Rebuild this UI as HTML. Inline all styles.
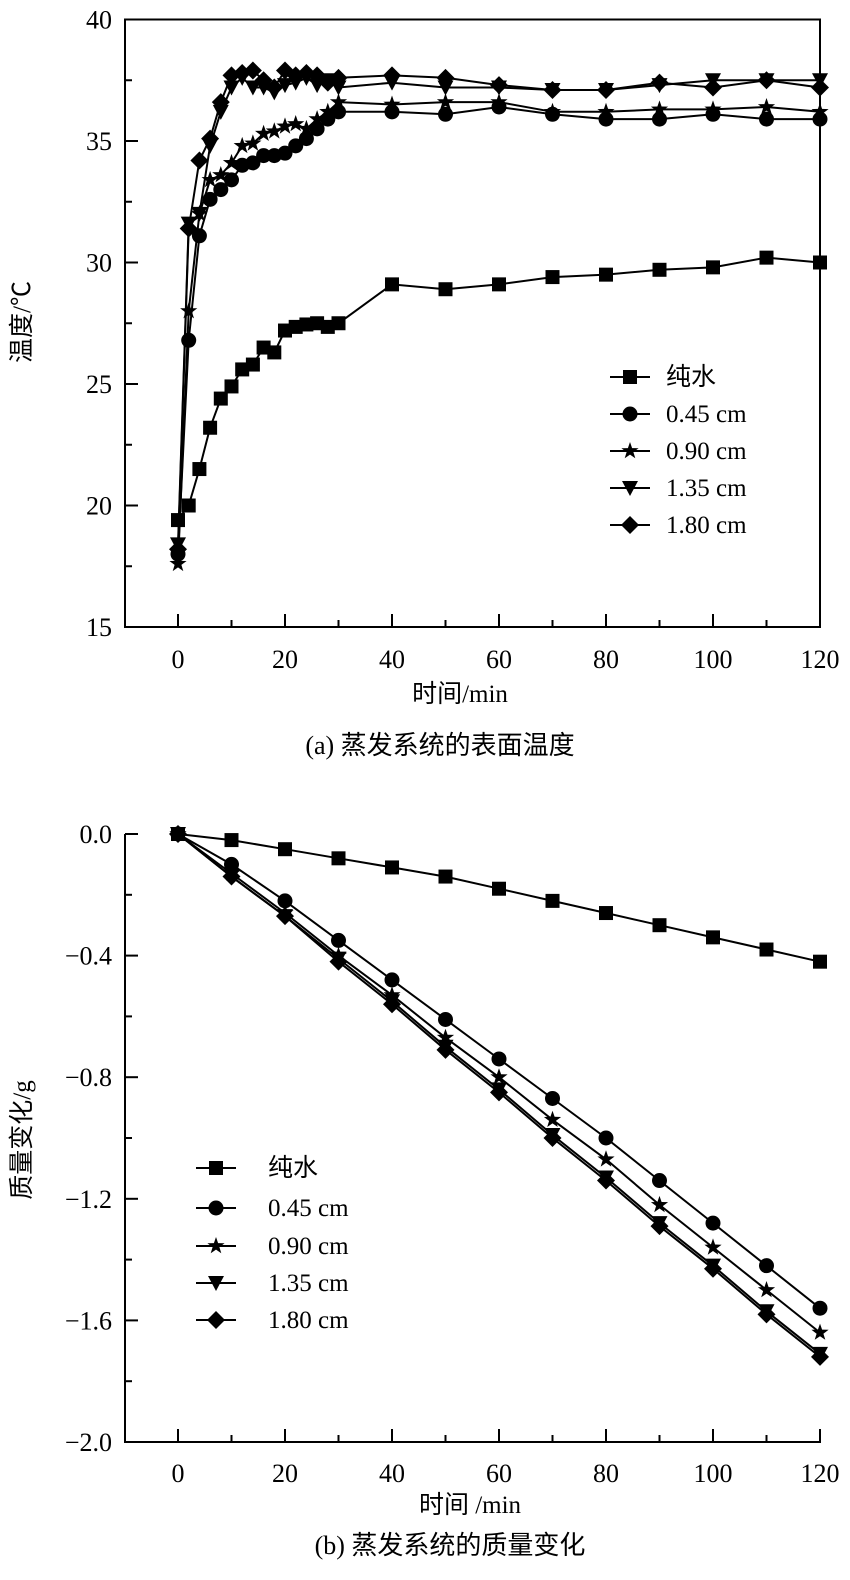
<!DOCTYPE html>
<html><head><meta charset="utf-8"><style>
html,body{margin:0;padding:0;background:#fff;}
svg{display:block;font-family:"Liberation Serif","Noto Serif CJK SC",serif;}
</style></head><body>
<svg id="s" width="850" height="1580" viewBox="0 0 850 1580" xmlns="http://www.w3.org/2000/svg"></svg>
<script>
// ---- Chart (a) data ----
const tA = [0,2,4,6,8,10,12,14,16,18,20,22,24,26,28,30,40,50,60,70,80,90,100,110,120];
const aWater = [19.4,20.0,21.5,23.2,24.4,24.9,25.6,25.8,26.5,26.3,27.2,27.35,27.45,27.5,27.35,27.5,29.1,28.9,29.1,29.4,29.5,29.7,29.8,30.2,30.0];
const a045 = [18.0,26.8,31.1,32.6,33.0,33.4,34.0,34.1,34.4,34.4,34.5,34.8,35.1,35.5,35.9,36.2,36.2,36.1,36.4,36.1,35.9,35.9,36.1,35.9,35.9];
const a090 = [17.6,28.0,32.0,33.4,33.6,34.1,34.8,34.9,35.3,35.4,35.6,35.7,35.5,35.9,36.2,36.6,36.5,36.6,36.6,36.2,36.2,36.3,36.3,36.4,36.2];
const a135 = [18.4,31.6,32.0,34.8,36.2,37.2,37.6,37.2,37.2,37.0,37.3,37.4,37.6,37.3,37.5,37.2,37.4,37.2,37.2,37.1,37.1,37.3,37.5,37.5,37.5];
const a180 = [18.2,31.4,34.2,35.1,36.6,37.7,37.8,37.9,37.5,37.2,37.9,37.7,37.8,37.7,37.4,37.6,37.7,37.6,37.3,37.1,37.1,37.4,37.2,37.5,37.2];
const aYTicks = [15,20,25,30,35,40];
// ---- Chart (b) data ----
const tB = [0,10,20,30,40,50,60,70,80,90,100,110,120];
const bWater = [0,-0.02,-0.05,-0.08,-0.11,-0.14,-0.18,-0.22,-0.26,-0.30,-0.34,-0.38,-0.42];
const b045 = [0,-0.10,-0.22,-0.35,-0.48,-0.61,-0.74,-0.87,-1.00,-1.14,-1.28,-1.42,-1.56];
const b090 = [0,-0.13,-0.26,-0.40,-0.53,-0.67,-0.80,-0.94,-1.07,-1.22,-1.36,-1.50,-1.64];
const b135 = [0,-0.14,-0.27,-0.41,-0.55,-0.70,-0.84,-0.99,-1.13,-1.28,-1.42,-1.57,-1.71];
const b180 = [0,-0.14,-0.27,-0.42,-0.56,-0.71,-0.85,-1.00,-1.14,-1.29,-1.43,-1.58,-1.72];
const bYTicks = [0.0,-0.4,-0.8,-1.2,-1.6,-2.0];
const xTicks = [0,20,40,60,80,100,120];
const seriesNames = ["纯水","0.45 cm","0.90 cm","1.35 cm","1.80 cm"];
const markers = ["square","circle","star","tri","diamond"];

const NS="http://www.w3.org/2000/svg";
const svg=document.getElementById('s');
function el(tag,attrs,parent){const e=document.createElementNS(NS,tag);for(const k in attrs)e.setAttribute(k,attrs[k]);(parent||svg).appendChild(e);return e;}
function txt(x,y,s,size,anchor,parent){const t=el('text',{x:x,y:y,'font-size':size,'text-anchor':anchor||'middle',fill:'#000'},parent);t.textContent=s;return t;}

function marker(g,type,x,y){
  let e;
  if(type==='square'){e=el('rect',{x:x-7,y:y-7,width:14,height:14,fill:'#000'},g);}
  else if(type==='circle'){e=el('circle',{cx:x,cy:y,r:7.5,fill:'#000'},g);}
  else if(type==='tri'){e=el('polygon',{points:`${x-8},${y-7} ${x+8},${y-7} ${x},${y+8}`,fill:'#000'},g);}
  else if(type==='diamond'){e=el('polygon',{points:`${x},${y-9} ${x+9},${y} ${x},${y+9} ${x-9},${y}`,fill:'#000'},g);}
  else {let p=[];for(let i=0;i<10;i++){const r=i%2?3.6:9;const a=-Math.PI/2+i*Math.PI/5;p.push((x+r*Math.cos(a)).toFixed(1)+','+(y+r*Math.sin(a)).toFixed(1));}
    e=el('polygon',{points:p.join(' '),fill:'#000'},g);}
  
  
}

function drawSeries(g,xs,ys,X,Y,type,name){
  const sg=el('g',{},g);
  
  
  const pts=xs.map((t,i)=>X(t).toFixed(1)+','+Y(ys[i]).toFixed(1)).join(' ');
  const pl=el('polyline',{points:pts,fill:'none',stroke:'#000','stroke-width':2},sg);
  
  
  xs.forEach((t,i)=>marker(sg,type,X(t),Y(ys[i])));
}

function legend(g,x0,yRows,textX){
  const lg=el('g',{},g);
  
  
  seriesNames.forEach((n,i)=>{
    const y=yRows[i];
    const eg=el('g',{},lg);
    
    
    el('line',{x1:x0,y1:y,x2:x0+40,y2:y,stroke:'#000','stroke-width':2},eg);
    marker(eg,markers[i],x0+20,y);
    txt(textX,y+8,n,25,'start',eg).setAttribute('font-family','"Liberation Serif","Noto Sans CJK SC",serif');
  });
}

// ---------- Chart A ----------
const L=125,R=820;
const XA=t=>178+(t/120)*(R-178);
const YA=v=>627-(v-15)*(627-19.5)/25;
const gA=el('g',{});


const fr=el('rect',{x:L,y:19.5,width:R-L,height:627-19.5,fill:'none',stroke:'#000','stroke-width':2},gA);


for(let t=0;t<=120;t+=10){const x=XA(t);const len=t%20===0?13:7;el('line',{x1:x,y1:627,x2:x,y2:627-len,stroke:'#000','stroke-width':2},gA);}
xTicks.forEach(t=>txt(XA(t),668,String(t),26,'middle',gA));
for(let v=15;v<=40;v+=2.5){const y=YA(v);const len=(v%5===0)?13:7;el('line',{x1:L,y1:y,x2:L+len,y2:y,stroke:'#000','stroke-width':2},gA);}
aYTicks.forEach(v=>txt(112,YA(v)+9,String(v),26,'end',gA));
const yta=txt(30,322,'温度/℃',25,'middle',gA);
yta.setAttribute('transform','rotate(-90 30 322)');
yta.setAttribute('font-family','"Liberation Serif","Noto Sans CJK SC",serif');


const xta=txt(460,702,'时间/min',25,'middle',gA);
xta.setAttribute('font-family','"Liberation Serif","Noto Sans CJK SC",serif');


const capA=txt(440,754,'(a) 蒸发系统的表面温度',26,'middle',gA);
capA.setAttribute('font-family','"Liberation Serif","Noto Sans CJK SC",serif');


[aWater,a045,a090,a135,a180].forEach((d,i)=>drawSeries(gA,tA,d,XA,YA,markers[i],'a-'+i));
legend(gA,610,[377,414,451,488,525],666);

// ---------- Chart B ----------
const YB=v=>834+(v/-2.0)*(1442-834);
const gB=el('g',{});


const ax=el('polyline',{points:`${L},834 ${L},1442 ${R},1442 ${R},1430`,fill:'none',stroke:'#000','stroke-width':2},gB);


for(let t=0;t<=120;t+=10){const x=XA(t);const len=t%20===0?13:7;el('line',{x1:x,y1:1442,x2:x,y2:1442-len,stroke:'#000','stroke-width':2},gB);}
xTicks.forEach(t=>txt(XA(t),1482,String(t),26,'middle',gB));
for(let k=0;k<=10;k++){const v=-0.2*k;const y=YB(v);const len=k%2===0?13:7;el('line',{x1:L,y1:y,x2:L+len,y2:y,stroke:'#000','stroke-width':2},gB);}
bYTicks.forEach(v=>txt(112,YB(v)+9,(v===0?'0.0':'\u2212'+Math.abs(v).toFixed(1)),26,'end',gB));
const ytb=txt(30,1140,'质量变化/g',25,'middle',gB);
ytb.setAttribute('transform','rotate(-90 30 1140)');
ytb.setAttribute('font-family','"Liberation Serif","Noto Sans CJK SC",serif');


const xtb=txt(470,1513,'时间 /min',25,'middle',gB);
xtb.setAttribute('font-family','"Liberation Serif","Noto Sans CJK SC",serif');


const capB=txt(450,1554,'(b) 蒸发系统的质量变化',26,'middle',gB);
capB.setAttribute('font-family','"Liberation Serif","Noto Sans CJK SC",serif');


[bWater,b045,b090,b135,b180].forEach((d,i)=>drawSeries(gB,tB,d,XA,YB,markers[i],'b-'+i));
legend(gB,196,[1168,1208,1246,1283,1320],268);
</script>
</body></html>
